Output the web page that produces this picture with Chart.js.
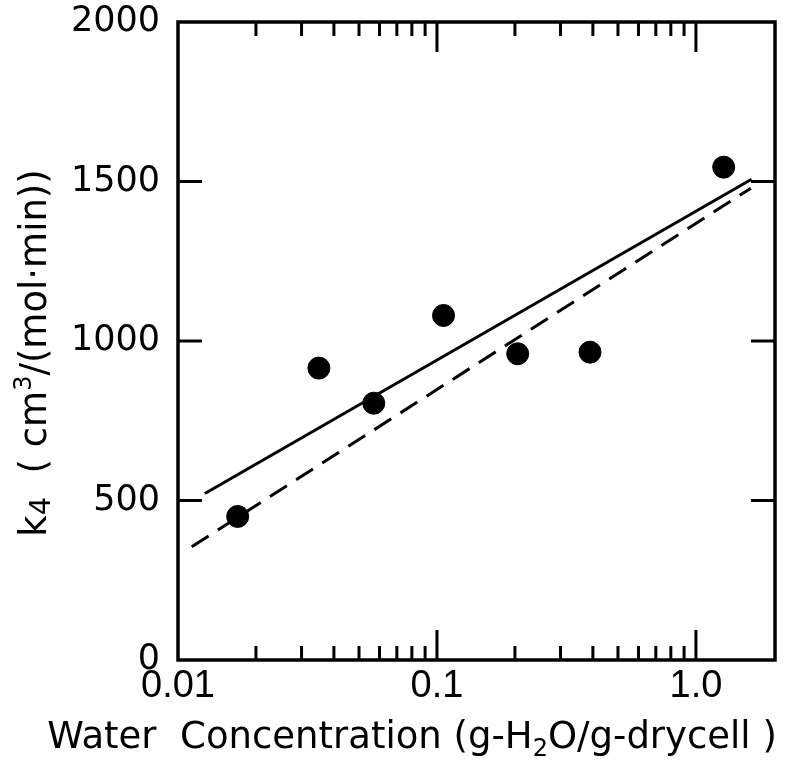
<!DOCTYPE html>
<html>
<head>
<meta charset="utf-8">
<script src="https://cdn.jsdelivr.net/npm/chart.js@4.4.1/dist/chart.umd.min.js"></script>
<style>
  html, body { margin: 0; padding: 0; background: #fff; }
</style>
</head>
<body>
<canvas id="grafico" width="787" height="761"></canvas>
<script>
// datos
const concAgua = [0.017, 0.035, 0.057, 0.106, 0.205, 0.39, 1.28];
const k4 = [450, 915, 805, 1080, 960, 965, 1545];

// rectas de ajuste (extremos)
const rectaSolidaX = [0.0127, 1.64];
const rectaSolidaY = [522, 1507];
const rectaTrazosX = [0.0113, 1.63];
const rectaTrazosY = [355, 1479];

// marcas de los ejes
const ticksX = [0.01, 0.02, 0.03, 0.04, 0.05, 0.06, 0.07, 0.08, 0.09,
                0.1, 0.2, 0.3, 0.4, 0.5, 0.6, 0.7, 0.8, 0.9, 1, 2];
const etiquetasX = { 0.01: '0.01', 0.1: '0.1', 1: '1.0' };
const ticksY = [0, 500, 1000, 1500, 2000];

// titulos: [texto, escala, desplazamiento vertical]
const tituloX = [['Water  Concentration (g-H', 1, 0], ['2', 0.65, 0.22], ['O/g-drycell )', 1, 0]];
const tituloY = [['k', 1, 0], ['4', 0.78, 0.12], ['  ( cm', 1, 0], ['3', 0.65, -0.4], ['/(mol\u00b7min))', 1, 0]];

const aPuntos = (xs, ys) => xs.map((v, i) => ({ x: v, y: ys[i] }));

function textoCompuesto(ctx, partes, cx, cy, size) {
  const fuente = s => `${s}px "DejaVu Sans"`;
  let total = 0;
  partes.forEach(([t, e]) => { ctx.font = fuente(size * e); total += ctx.measureText(t).width; });
  let x = cx - total / 2;
  ctx.textAlign = 'left';
  partes.forEach(([t, e, dy]) => {
    ctx.font = fuente(size * e);
    ctx.fillText(t, x, cy + dy * size);
    x += ctx.measureText(t).width;
  });
}

// marco, marcas interiores y titulos
const marco = {
  id: 'marco',
  afterDatasetsDraw(chart) {
    const { ctx, chartArea: a, scales: { x, y } } = chart;
    ctx.save();
    ctx.strokeStyle = '#000';
    ctx.lineWidth = 3.5;
    ctx.strokeRect(a.left, a.top, a.right - a.left, a.bottom - a.top);
    ctx.lineWidth = 3;
    ctx.beginPath();
    x.ticks.forEach(t => {
      const px = x.getPixelForValue(t.value);
      if (px <= a.left + 2 || px >= a.right - 2) return;
      const largo = etiquetasX[t.value] ? 30 : 14;
      ctx.moveTo(px, a.bottom); ctx.lineTo(px, a.bottom - largo);
      ctx.moveTo(px, a.top); ctx.lineTo(px, a.top + largo);
    });
    y.ticks.forEach(t => {
      const py = y.getPixelForValue(t.value);
      if (py <= a.top + 2 || py >= a.bottom - 2) return;
      ctx.moveTo(a.left, py); ctx.lineTo(a.left + 24, py);
      ctx.moveTo(a.right, py); ctx.lineTo(a.right - 24, py);
    });
    ctx.stroke();

    ctx.fillStyle = '#000';
    ctx.textBaseline = 'alphabetic';
    textoCompuesto(ctx, tituloX, 412, 748, 37);
    ctx.translate(46, 353);
    ctx.rotate(-Math.PI / 2);
    textoCompuesto(ctx, tituloY, 0, 0, 37);
    ctx.restore();
  }
};

const sinRelleno = s => { s.paddingTop = 0; s.paddingBottom = 0; s.paddingLeft = 0; s.paddingRight = 0; };

new Chart(document.getElementById('grafico'), {
  type: 'scatter',
  data: {
    datasets: [
      {
        label: 'k4',
        data: aPuntos(concAgua, k4),
        backgroundColor: '#000',
        borderColor: '#000',
        pointRadius: 11,
        pointHoverRadius: 11,
        order: 0
      },
      {
        label: 'ajuste',
        type: 'line',
        data: aPuntos(rectaSolidaX, rectaSolidaY),
        borderColor: '#000',
        borderWidth: 3,
        pointRadius: 0,
        fill: false,
        order: 1
      },
      {
        label: 'ajuste 2',
        type: 'line',
        data: aPuntos(rectaTrazosX, rectaTrazosY),
        borderColor: '#000',
        borderWidth: 3,
        borderDash: [20, 11],
        pointRadius: 0,
        fill: false,
        order: 2
      }
    ]
  },
  options: {
    responsive: false,
    animation: false,
    layout: { padding: { top: 22, right: 3, left: 0, bottom: 0 } },
    plugins: { legend: { display: false }, tooltip: { enabled: false } },
    scales: {
      x: {
        type: 'logarithmic',
        min: 0.01,
        max: 2.02,
        afterBuildTicks: s => { s.ticks = ticksX.map(v => ({ value: v })); },
        afterFit: s => { s.height = 101; sinRelleno(s); },
        grid: { display: false, drawTicks: false },
        border: { display: false },
        ticks: {
          autoSkip: false,
          maxRotation: 0,
          padding: 8,
          color: '#000',
          font: { family: '"Liberation Sans Narrow", "Liberation Sans", sans-serif', size: 38, lineHeight: 1 },
          callback: v => etiquetasX[v] || ''
        }
      },
      y: {
        min: 0,
        max: 2000,
        afterBuildTicks: s => { s.ticks = ticksY.map(v => ({ value: v })); },
        afterFit: s => { s.width = 178; sinRelleno(s); },
        grid: { display: false, drawTicks: false },
        border: { display: false },
        ticks: {
          padding: 18,
          color: '#000',
          font: { family: '"DejaVu Sans"', size: 35 },
          callback: v => String(v)
        }
      }
    }
  },
  plugins: [marco]
});
</script>
</body>
</html>
